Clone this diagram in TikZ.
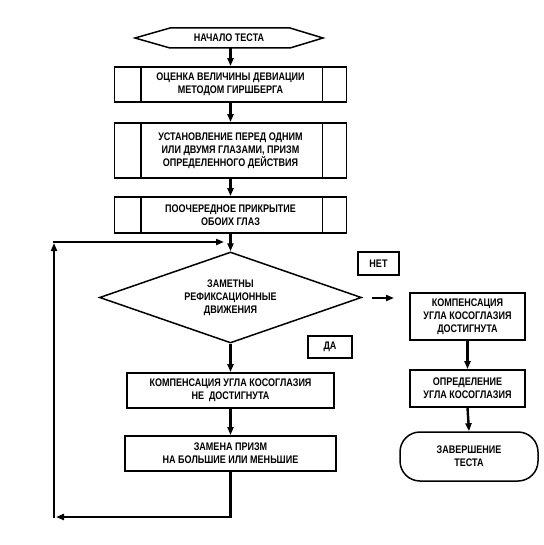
\documentclass[tikz,border=0pt]{standalone}
\usepackage{fontspec}
\setmainfont{Liberation Sans}[FakeStretch=0.82]
\usetikzlibrary{shapes.geometric,arrows.meta}
\begin{document}
\begin{tikzpicture}[x=1pt,y=-1pt,
  font=\bfseries\fontsize{11}{13}\selectfont,
  box/.style={draw, line width=1.8pt, align=center, inner sep=0pt},
  ln/.style={line width=1.8pt},
  arr/.style={line width=2.4pt, -{Triangle[length=8pt,width=6pt]}},
]
\useasboundingbox (0,0) rectangle (543,545);
% start
\coordinate (h1) at (135,38);
\coordinate (h2) at (170,28);
\coordinate (h3) at (290,28);
\coordinate (h4) at (323,38);
\coordinate (h5) at (290,48);
\coordinate (h6) at (170,48);
\draw[ln, line width=1.5pt] (h1) -- (h2) -- (h3) -- (h4) -- (h5) -- (h6) -- cycle;
\node[inner sep=0pt, minimum width=188pt, minimum height=20pt] (start) at (229,38) {НАЧАЛО ТЕСТА};
% predefined boxes
\node[box, minimum width=232pt, minimum height=35pt] (b1) at (230.5,84.5) {ОЦЕНКА ВЕЛИЧИНЫ ДЕВИАЦИИ\\МЕТОДОМ ГИРШБЕРГА};
\node[box, minimum width=232pt, minimum height=55pt] (b2) at (230.5,150.5) {УСТАНОВЛЕНИЕ ПЕРЕД ОДНИМ\\ИЛИ ДВУМЯ ГЛАЗАМИ, ПРИЗМ\\ОПРЕДЕЛЕННОГО ДЕЙСТВИЯ};
\node[box, minimum width=232pt, minimum height=36pt] (b3) at (230.5,215) {ПООЧЕРЕДНОЕ ПРИКРЫТИЕ\\ОБОИХ ГЛАЗ};
\foreach \b in {b1,b2,b3}{
  \draw[ln] ([xshift=27pt]\b.north west) -- ([xshift=27pt]\b.south west);
  \draw[ln] ([xshift=-25pt]\b.north east) -- ([xshift=-25pt]\b.south east);
}
% decision
\node[diamond, draw, line width=1.5pt, minimum width=262pt, minimum height=91pt, inner sep=0pt, shape aspect=2.88, align=center] (dia) at (230.5,297.5) {ЗАМЕТНЫ\\РЕФИКСАЦИОННЫЕ\\ДВИЖЕНИЯ};
\node[box, minimum width=41pt, minimum height=23pt] (net) at (378.5,263.5) {НЕТ};
\node[box, minimum width=44pt, minimum height=22pt] (da) at (330,347) {ДА};
% left column
\node[box, minimum width=207pt, minimum height=35pt] (b4) at (230.5,390.5) {КОМПЕНСАЦИЯ УГЛА КОСОГЛАЗИЯ\\НЕ \ ДОСТИГНУТА};
\node[box, minimum width=211pt, minimum height=35pt] (b5) at (230.5,453.5) {ЗАМЕНА ПРИЗМ\\НА БОЛЬШИЕ ИЛИ МЕНЬШИЕ};
% right column
\node[box, minimum width=115pt, minimum height=47pt] (r1) at (467.5,316.5) {КОМПЕНСАЦИЯ\\УГЛА КОСОГЛАЗИЯ\\ДОСТИГНУТА};
\node[box, minimum width=115pt, minimum height=37pt] (r2) at (467.5,388.5) {ОПРЕДЕЛЕНИЕ\\УГЛА КОСОГЛАЗИЯ};
\node[box, rounded corners=20pt, line width=1.5pt, minimum width=138pt, minimum height=49pt] (term) at (469,456.5) {ЗАВЕРШЕНИЕ\\ТЕСТА};
% main connectors
\draw[arr] (start.south -| b1.north) -- (b1.north);
\draw[arr] (b1.south) -- (b2.north);
\draw[arr] (b2.south) -- (b3.north);
\draw[arr] (b3.south) -- (dia.north);
\draw[arr] (dia.south) -- (b4.north);
\draw[arr] (b4.south) -- (b5.north);
\draw[arr] (r1.south) -- (r2.north);
\draw[arr] (r2.south) -- (term.north);
% no branch
\coordinate (n1) at (372,298);
\coordinate (n2) at (394,298);
\draw[arr] (n1) -- (n2);
% loop
\coordinate (lb) at (b5.south |- 0,517);
\coordinate (lbl) at (56,517);
\coordinate (lc) at (54,518.2);
\coordinate (lt) at (54,243);
\coordinate (lt2) at (52.8,242);
\coordinate (lr) at (224,242);
\draw[line width=2.4pt] (b5.south) -- (lb);
\draw[arr] ([xshift=1.2pt]lb) -- (lbl);
\draw[arr] (lc) -- (lt);
\draw[arr] (lt2) -- (lr);
\end{tikzpicture}
\end{document}
